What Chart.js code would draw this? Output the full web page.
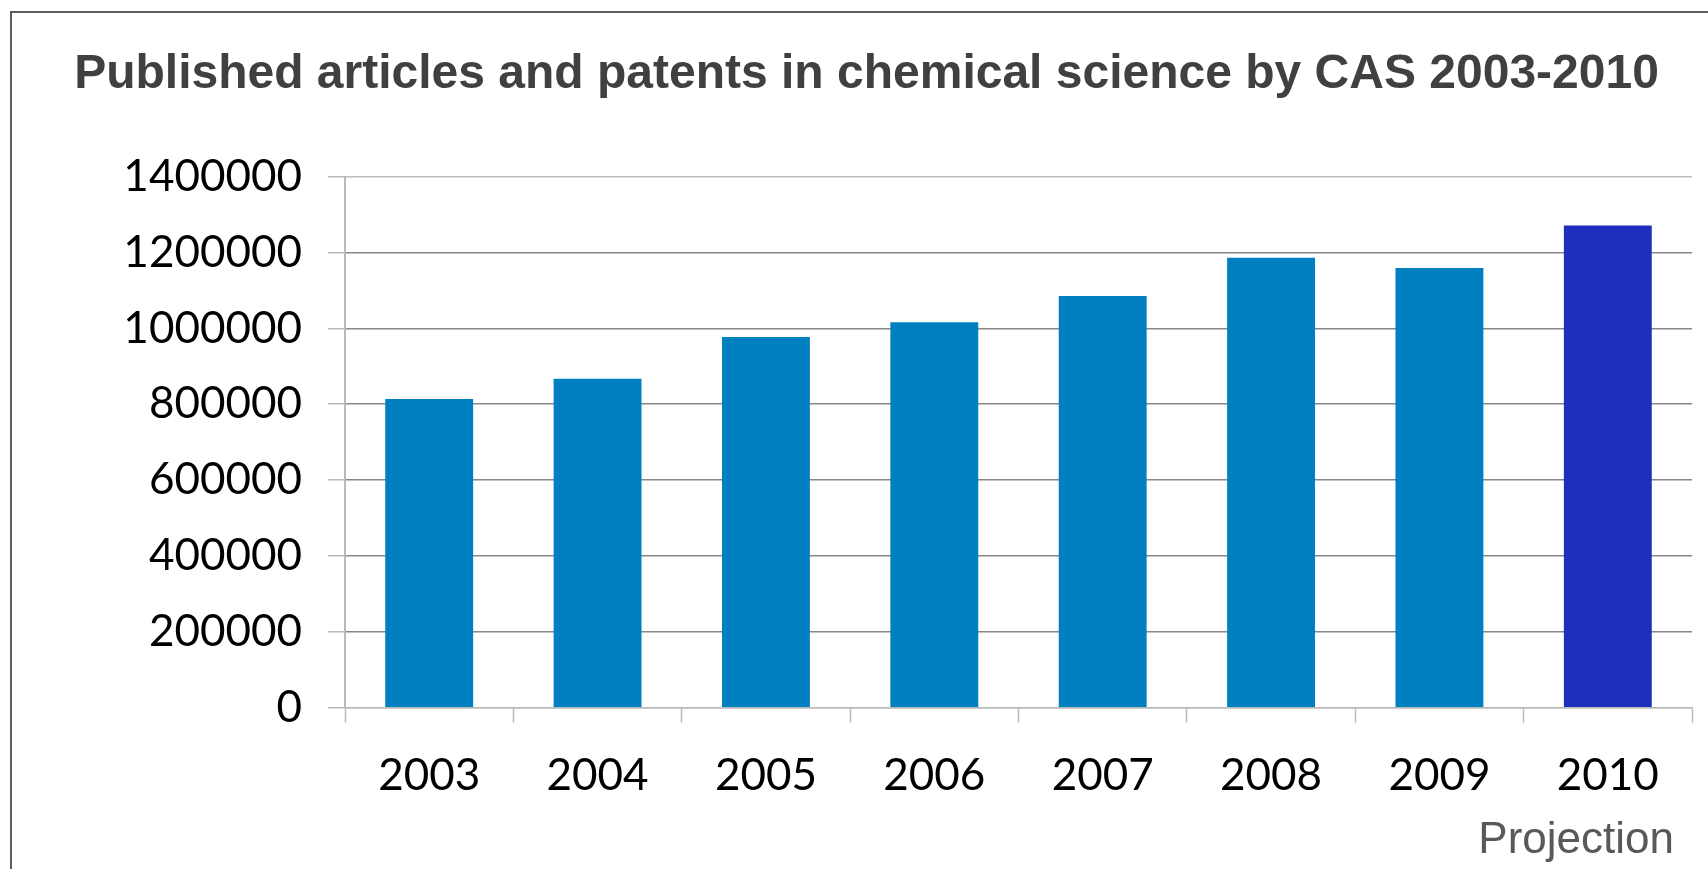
<!DOCTYPE html>
<html>
<head>
<meta charset="utf-8">
<script src="https://cdn.jsdelivr.net/npm/chart.js@4/dist/chart.umd.min.js"></script>
<style>
  html, body { margin: 0; padding: 0; background: #fff; }
  #wrap { position: relative; width: 1708px; height: 869px; overflow: hidden; }
  #frame {
    position: absolute; left: 10px; top: 11px; width: 1800px; height: 900px;
    border-left: 2px solid #5c5c5c; border-top: 2px solid #5c5c5c;
    pointer-events: none;
  }
  canvas { position: absolute; left: 0; top: 0; }
</style>
</head>
<body>
<div id="wrap">
  <canvas id="chart" width="1708" height="869"></canvas>
  <div id="frame"></div>
</div>
<script>
// ---- DATOS ----
var YEARS    = ["2003", "2004", "2005", "2006", "2007", "2008", "2009", "2010"];
var ARTICLES = [814000, 867000, 977000, 1016000, 1085000, 1186000, 1159000, 1271000];
var Y_TICKS  = [0, 200000, 400000, 600000, 800000, 1000000, 1200000, 1400000];
var PROJECTED_YEAR = "2010";

var TITLE = "Published articles and patents in chemical science by CAS 2003-2010";
var NOTE  = "Projection";

// ---- ESTILO ----
var BLUE      = "#0080c1";
var BLUE_PROJ = "#1e2fbe";
var GRID      = "#878787";
var AXIS      = "#b9b9b9";

// nota "Projection" bajo el eje x
var notePlugin = {
  id: "projectionNote",
  afterDraw: function(chart) {
    var ctx = chart.ctx, area = chart.chartArea;
    ctx.save();
    ctx.font = '44px "Liberation Sans", Arial, sans-serif';
    ctx.fillStyle = "#595959";
    ctx.textAlign = "right";
    ctx.textBaseline = "alphabetic";
    ctx.fillText(NOTE, area.right - 18, area.bottom + 145);
    ctx.restore();
  }
};

new Chart(document.getElementById("chart"), {
  type: "bar",
  data: {
    labels: YEARS,
    datasets: [{
      data: ARTICLES,
      backgroundColor: YEARS.map(function(y) { return y === PROJECTED_YEAR ? BLUE_PROJ : BLUE; }),
      borderWidth: 0,
      categoryPercentage: 1,
      barPercentage: 0.522
    }]
  },
  options: {
    responsive: false,
    animation: false,
    layout: { padding: { left: 41, right: 16, top: 0, bottom: 0 } },
    plugins: {
      legend: { display: false },
      tooltip: { enabled: false },
      title: {
        display: true,
        text: TITLE,
        color: "#404040",
        font: { family: '"Liberation Sans", Arial, sans-serif', size: 48, weight: "bold", lineHeight: 1.2 },
        padding: { top: 46, bottom: 73 }
      }
    },
    scales: {
      x: {
        afterFit: function(scale) { scale.height = 161.3; },
        grid: {
          drawOnChartArea: false,
          drawTicks: true,
          tickLength: 15,
          tickColor: AXIS,
          tickWidth: 1.5
        },
        border: { color: AXIS, width: 1.5 },
        ticks: {
          color: "#000",
          padding: 27,
          font: { family: "Lato, sans-serif", size: 44 }
        }
      },
      y: {
        min: 0,
        max: 1400000,
        afterFit: function(scale) { scale.width = 304; },
        afterBuildTicks: function(scale) {
          scale.ticks = Y_TICKS.map(function(v) { return { value: v }; });
        },
        grid: {
          color: function(c) {
            var v = c.tick ? c.tick.value : null;
            return (v === 0 || v === 1400000) ? "#bdbdbd" : GRID;
          },
          lineWidth: 1.5,
          tickLength: 17,
          tickColor: AXIS
        },
        border: { color: AXIS, width: 2 },
        ticks: {
          color: "#000",
          padding: 26,
          font: { family: "Lato, sans-serif", size: 44 },
          callback: function(v) { return String(v); }
        }
      }
    }
  },
  plugins: [notePlugin]
});
</script>
</body>
</html>
